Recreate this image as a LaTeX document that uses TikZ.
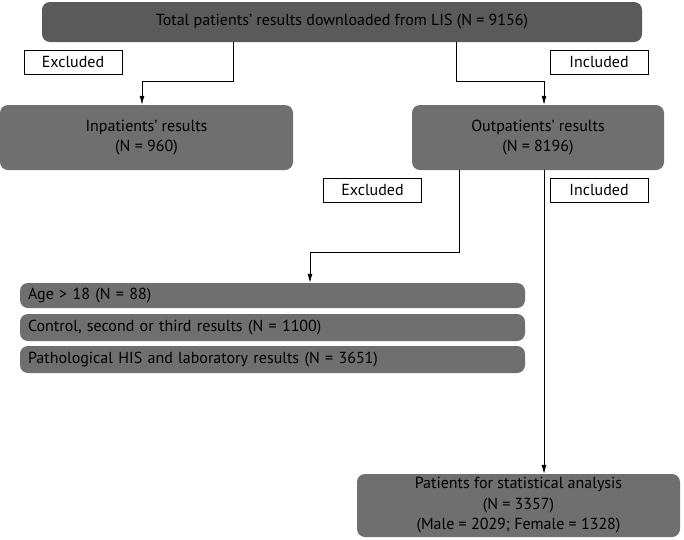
\documentclass[tikz,border=0pt]{standalone}
\usepackage{fontspec}
\setmainfont{PT Sans}
\usetikzlibrary{arrows.meta}
\definecolor{darkbox}{HTML}{5A5A5A}
\definecolor{midbox}{HTML}{6F6F6F}
\begin{document}
\begin{tikzpicture}[x=1pt,y=1pt,
    font=\fontsize{16}{20.5}\selectfont,
    grey/.style={rectangle,rounded corners=8pt,fill=midbox,inner sep=0pt,align=center},
    tag/.style={rectangle,draw,fill=white,line width=0.8pt,minimum height=24pt,minimum width=98pt,inner sep=0pt},
    arr/.style={-{Latex[length=9pt,width=5pt]},line width=0.8pt}]
    \useasboundingbox (0,0) rectangle (684,-539);
      \node[grey,fill=darkbox,minimum height=40pt,minimum width=600pt] (total) at
      (342,-22) {Total patients’ results downloaded from LIS (N = 9156)};
      \node[tag] (excl1) at (73,-62) {Excluded};
      \node[tag] (incl1) at (599,-62) {Included};
      \node[grey,minimum height=65pt,minimum width=293pt] (inp) at
      (146.5,-137.5) {Inpatients’ results\\(N = 960)};
      \node[grey,minimum height=65pt,minimum width=252pt] (outp) at
      (538,-137.5) {Outpatients’ results\\(N = 8196)};
      \node[tag] (excl2) at (372.5,-190) {Excluded};
      \node[tag] (incl2) at (599,-190) {Included};
      \node[grey,minimum height=25pt,minimum width=505pt,text width=489pt,align=left] (age) at
      (272.5,-295.5) {Age > 18 (N = 88)};
      \node[grey,minimum height=27pt,minimum width=505pt,text width=489pt,align=left] (ctrl) at
      (272.5,-327.5) {Control, second or third results (N = 1100)};
      \node[grey,minimum height=27pt,minimum width=505pt,text width=489pt,align=left] (patho) at
      (272.5,-359.5) {Pathological HIS and laboratory results (N = 3651)};
      \node[grey,minimum height=63pt,minimum width=323pt] (stat) at
      (518.5,-505.5) {Patients for statistical analysis\\(N = 3357)\\(Male = 2029; Female = 1328)};
      \draw[arr] ([xshift=-109pt]total.south) -- ++(0,-39) -| ([xshift=-4.5pt]inp.north);
      \draw[arr] ([xshift=114pt]total.south) -- ++(0,-39) -| ([xshift=6pt]outp.north);
      \draw[arr] ([xshift=-79pt]outp.south) -- ++(0,-82) -| ([xshift=37.5pt]age.north);
      \draw[arr] ([xshift=6pt]outp.south) to ([xshift=25.5pt]stat.north);
    \end{tikzpicture}
\end{document}
